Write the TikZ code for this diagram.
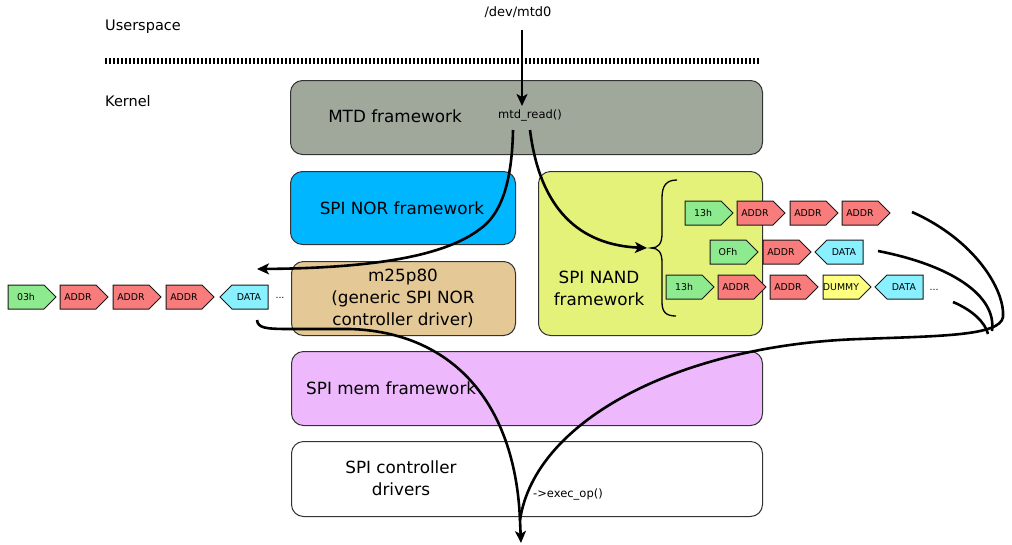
\documentclass[tikz,border=0pt]{standalone}
\usepackage{fontspec}
\setmainfont{DejaVu Sans}
\usetikzlibrary{arrows.meta}

\definecolor{mtdfill}{HTML}{A0A89C}
\definecolor{norfill}{HTML}{00B6FF}
\definecolor{nandfill}{HTML}{E4F27A}
\definecolor{drvfill}{HTML}{E4C896}
\definecolor{memfill}{HTML}{EEB8FC}
\definecolor{opgreen}{HTML}{8EEA8E}
\definecolor{addrred}{HTML}{F87C7C}
\definecolor{datacyan}{HTML}{88F0FF}
\definecolor{dummyyellow}{HTML}{FFFF80}

\tikzset{
  layer/.style={draw=black!80, line width=1pt, rounded corners=12pt, anchor=north west, inner sep=0pt},
  boxtext/.style={font=\fontsize{16.8}{22}\selectfont, align=center, inner sep=0pt},
  sidetext/.style={font=\fontsize{14.5}{17}\selectfont, inner sep=0pt},
  small/.style={font=\fontsize{11.5}{14}\selectfont, inner sep=0pt},
  chiptext/.style={font=\fontsize{9.4}{11}\selectfont, inner sep=0pt},
  chip/.style={draw=black!90, line width=1pt, line join=miter},
  flow/.style={line width=2.6pt},
  tip/.style={-{Stealth[length=12pt,width=11pt,inset=3pt]}}
}

% command chip pointing east: name, left x, centre y, fill, label
\newcommand\chipE[5]{%
  \draw[chip, fill=#4] (#2,#3-12) -- (#2+36,#3-12) -- (#2+48,#3) -- (#2+36,#3+12) -- (#2,#3+12) -- cycle;
  \node[chiptext] (#1) at (#2+18,#3) {#5};
}
% data chip pointing west: name, left x, centre y, fill, label
\newcommand\chipW[5]{%
  \draw[chip, fill=#4] (#2,#3) -- (#2+12,#3-12) -- (#2+48,#3-12) -- (#2+48,#3+12) -- (#2+12,#3+12) -- cycle;
  \node[chiptext] (#1) at (#2+29,#3) {#5};
}

\begin{document}
\begin{tikzpicture}[x=1pt,y=-1pt]
\useasboundingbox (0,0) rectangle (1012,544);

% user/kernel boundary
\node[sidetext, anchor=west] (user) at (105,27) {Userspace};
\node[sidetext, anchor=west] (kernel) at (105,101) {Kernel};
\coordinate (sepL) at (105,61);
\coordinate (sepR) at (760,61);
\draw[line width=6pt, dash pattern=on 2pt off 2pt] (sepL) -- (sepR);
\node[font=\fontsize{13}{15}\selectfont, inner sep=0pt] (dev) at (518,12) {/dev/mtd0};

% software layers
\node[layer, fill=mtdfill, minimum width=472pt, minimum height=74pt] (mtd) at (290,80) {};
\node[layer, fill=norfill, minimum width=225pt, minimum height=73pt] (nor) at (290,171) {};
\node[layer, fill=nandfill, minimum width=224pt, minimum height=164pt] (nand) at (538,171) {};
\node[layer, fill=drvfill, minimum width=224pt, minimum height=74pt] (m25) at (291,261) {};
\node[layer, fill=memfill, minimum width=471pt, minimum height=74pt] (mem) at (291,351) {};
\node[layer, fill=white, minimum width=471pt, minimum height=75pt] (ctrl) at (291,441) {};

\node[boxtext] (mtdlabel) at (395,116) {MTD framework};
\node[small] (mtdread) at (530,115) {mtd\_read()};
\node[boxtext] (norlabel) at (402,208) {SPI NOR framework};
\node[boxtext] (nandlabel) at (599,288) {SPI NAND\\framework};
\node[boxtext] (m25label) at (403,298) {m25p80\\(generic SPI NOR\\controller driver)};
\node[boxtext, anchor=west] (memlabel) at (306,388) {SPI mem framework};
\node[boxtext] (ctrllabel) at (401,478) {SPI controller\\drivers};
\node[small, anchor=west] (execop) at (533,494) {->exec\_op()};

% SPI NOR read operation
\chipE{n1}{8}{297}{opgreen}{03h}
\chipE{n2}{60}{297}{addrred}{ADDR}
\chipE{n3}{113}{297}{addrred}{ADDR}
\chipE{n4}{166}{297}{addrred}{ADDR}
\chipW{n5}{220}{297}{datacyan}{DATA}
\node[chiptext] (ndots) at (280,298) {...};

% SPI NAND read operations
\chipE{a1}{685}{213}{opgreen}{13h}
\chipE{a2}{737}{213}{addrred}{ADDR}
\chipE{a3}{790}{213}{addrred}{ADDR}
\chipE{a4}{842}{213}{addrred}{ADDR}

\chipE{b1}{710}{252}{opgreen}{OFh}
\chipE{b2}{763}{252}{addrred}{ADDR}
\chipW{b3}{815}{252}{datacyan}{DATA}

\chipE{c1}{666}{287}{opgreen}{13h}
\chipE{c2}{718}{287}{addrred}{ADDR}
\chipE{c3}{770}{287}{addrred}{ADDR}
\chipE{c4}{823}{287}{dummyyellow}{DUMMY}
\chipW{c5}{875}{287}{datacyan}{DATA}
\node[chiptext] (cdots) at (934,290) {...};

% brace grouping the NAND sequences
\coordinate (brtop) at (677,180);
\coordinate (brtip) at (651,248);
\coordinate (brbot) at (676,316);
\draw[line width=1.3pt] (brtop) .. controls (666,180) and (662,186) .. (662,198) -- (662,234)
  .. controls (662,244) and (658,248) .. (brtip)
  .. controls (658,248) and (662,252) .. (662,262) -- (662,302)
  .. controls (662,312) and (666,316) .. (brbot);

% call flow
\coordinate (userin) at (522,30);
\coordinate (readin) at (522,106);
\draw[flow, tip] (userin) -- (readin);

\coordinate (norout) at (513,130);
\coordinate (norin) at (257,269);
\draw[flow, tip] (norout) .. controls (512,185) and (500,215) .. (480,229)
  .. controls (450,252) and (390,268) .. (norin);

\coordinate (nandout) at (530,130);
\coordinate (nandin) at (647,248);
\draw[flow, tip] (nandout) .. controls (540,210) and (580,245) .. (nandin);

\coordinate (norret) at (257,320);
\coordinate (merge) at (520,520);
\coordinate (hw) at (521,543);
\draw[flow, tip] (norret) .. controls (258,328) and (265,329) .. (290,329) -- (350,329)
  .. controls (450,332) and (515,400) .. (merge) -- (hw);

\coordinate (aret) at (912,212);
\coordinate (bret) at (878,251);
\coordinate (cret) at (953,302);
\draw[flow] (aret) .. controls (975,240) and (1005,290) .. (1003,317)
  .. controls (1000,336) and (940,336) .. (860,339)
  .. controls (680,345) and (535,420) .. (merge);
\draw[flow] (bret) .. controls (950,265) and (997,295) .. (992,331);
\draw[flow] (cret) .. controls (972,310) and (985,322) .. (988,334);
\end{tikzpicture}
\end{document}
